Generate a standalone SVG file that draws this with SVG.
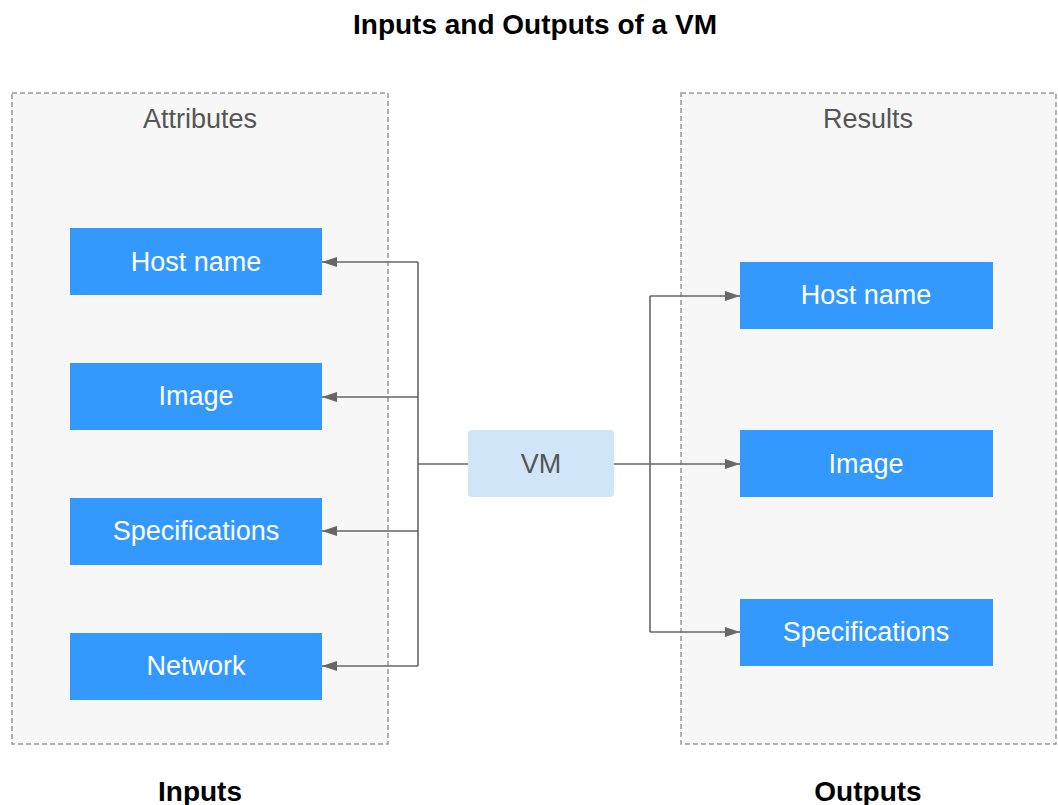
<svg xmlns="http://www.w3.org/2000/svg" width="1058" height="805" viewBox="0 0 1058 805">
<style>
.title{font-family:"Liberation Sans",Arial,sans-serif;font-weight:bold;font-size:28px;fill:#000;text-anchor:middle}
.cont{fill:#f7f7f7;stroke:#999;stroke-width:1.5;stroke-dasharray:5,3}
.clabel{font-family:"Liberation Sans",Arial,sans-serif;font-size:27px;fill:#555;text-anchor:middle}
.box{fill:#3399ff}
.btxt{font-family:"Liberation Sans",Arial,sans-serif;font-size:27px;fill:#fff;text-anchor:middle}
.vm{fill:#d1e5f8}
.vtxt{font-family:"Liberation Sans",Arial,sans-serif;font-size:27px;fill:#555;text-anchor:middle}
.ln{fill:none;stroke:#666;stroke-width:1.6}
.arr{stroke:#666;stroke-width:1.6;fill:none;marker-end:url(#ah)}
</style>
<defs>
<marker id="ah" markerWidth="16" markerHeight="12" refX="15" refY="6" orient="auto" markerUnits="userSpaceOnUse">
<path d="M0,1 L15,6 L0,11 Z" fill="#666"/>
</marker>
</defs>
<rect width="1058" height="805" fill="#fff"/>
<text class="title" x="535" y="34">Inputs and Outputs of a VM</text>
<g id="attributes">
<rect class="cont" x="12" y="93" width="376" height="651"/>
<text class="clabel" x="200" y="128">Attributes</text>
</g>
<g id="results">
<rect class="cont" x="681" y="93" width="375" height="651"/>
<text class="clabel" x="868" y="128">Results</text>
</g>
<g id="in-hostname"><rect class="box" x="70" y="228" width="252" height="67"/><text class="btxt" x="196" y="271">Host name</text></g>
<g id="in-image"><rect class="box" x="70" y="363" width="252" height="67"/><text class="btxt" x="196" y="405">Image</text></g>
<g id="in-spec"><rect class="box" x="70" y="498" width="252" height="67"/><text class="btxt" x="196" y="540">Specifications</text></g>
<g id="in-network"><rect class="box" x="70" y="633" width="252" height="67"/><text class="btxt" x="196" y="675">Network</text></g>
<g id="vm"><rect class="vm" x="468" y="430" width="146" height="67" rx="4"/><text class="vtxt" x="541" y="473">VM</text></g>
<g id="out-hostname"><rect class="box" x="740" y="262" width="253" height="67"/><text class="btxt" x="866" y="304">Host name</text></g>
<g id="out-image"><rect class="box" x="740" y="430" width="253" height="67"/><text class="btxt" x="866" y="473">Image</text></g>
<g id="out-spec"><rect class="box" x="740" y="599" width="253" height="67"/><text class="btxt" x="866" y="641">Specifications</text></g>
<g id="connectors">
<path class="ln" d="M468,464 H418 M418,262 V666"/>
<path class="arr" d="M418,262 H322"/>
<path class="arr" d="M418,397 H322"/>
<path class="arr" d="M418,531 H322"/>
<path class="arr" d="M418,666 H322"/>
<path class="ln" d="M650,296 V632"/>
<path class="arr" d="M614,464 H740"/>
<path class="arr" d="M650,296 H740"/>
<path class="arr" d="M650,632 H740"/>
</g>
<text class="title" x="200" y="801">Inputs</text>
<text class="title" x="868" y="801">Outputs</text>
</svg>
